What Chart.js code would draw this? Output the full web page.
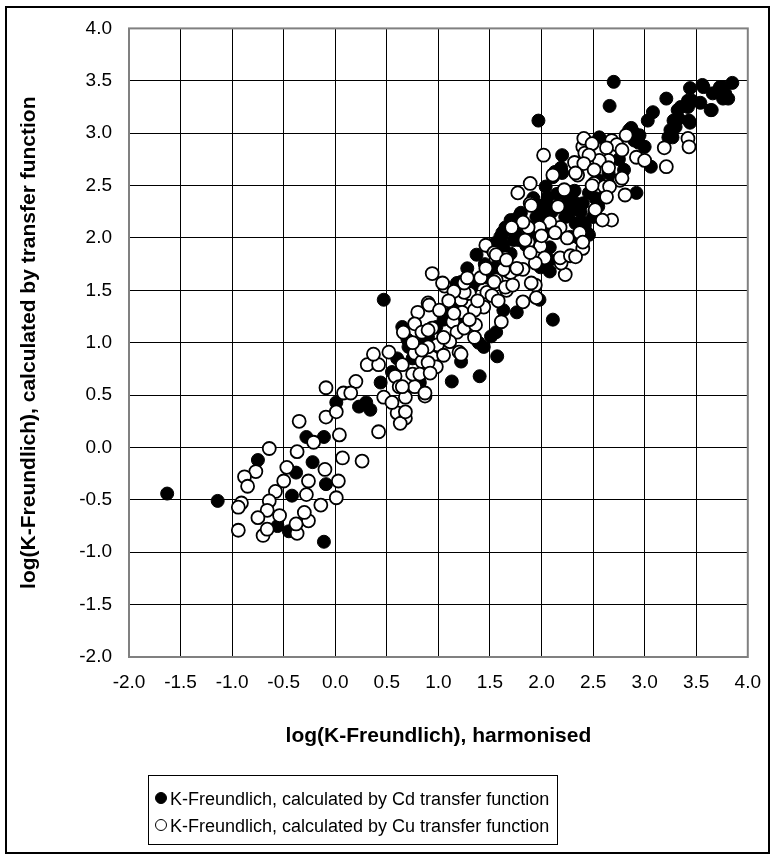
<!DOCTYPE html>
<html>
<head>
<meta charset="utf-8">
<script src="https://cdn.jsdelivr.net/npm/chart.js@4.4.1/dist/chart.umd.min.js"></script>
<style>
  body { margin: 0; background: #fff; overflow: hidden; }
  #wrap { position: relative; width: 775px; height: 859px; }
  #myChart { position: absolute; left: 0; top: 0; }
  #frame { position: absolute; left: 5px; top: 6px; width: 765px; height: 848px; border: 2px solid #000; box-sizing: border-box; pointer-events: none; }
  #legend { position: absolute; left: 148px; top: 775px; width: 410px; height: 70px; border: 1.5px solid #000; box-sizing: border-box;
            font: 18px "Liberation Sans", Arial, sans-serif; color: #000; padding-top: 10px; }
  .legend-row { height: 27px; line-height: 27px; white-space: nowrap; }
  .legend-mark { display: inline-block; width: 10px; height: 10px; border: 1.5px solid #000; border-radius: 50%;
                 margin: 0 3px 0 6px; vertical-align: 1px; }
</style>
</head>
<body>
<div id="wrap">
  <canvas id="myChart" width="775" height="859"></canvas>
  <div id="frame"></div>
  <div id="legend"></div>
</div>
<script>
'use strict';

// dane (log K-Freundlich)
// Cd - kolka pelne
var cdX = [-1.63, -1.14, -0.75, -0.38, -0.42, -0.56, -0.45, -0.22, -0.11, -0.09, -0.28, -0.11, 0.01, 0.23, 0.34, 0.44, 0.30,
  0.60, 0.65, 0.70, 0.47,
  1.28, 1.22, 1.70, 1.73, 1.63, 1.76, 1.56, 1.39, 0.71, 1.18,
  1.13, 1.40, 1.57, 1.44, 1.51, 2.11, 2.08, 1.63, 1.22, 1.98,
  2.20, 2.13, 2.04, 2.04, 1.97, 1.95, 1.79, 1.70, 1.65, 1.60, 1.51, 1.37, 1.18, 2.27, 2.33, 2.46, 2.28, 2.08, 2.33, 2.52, 2.65, 2.19,
  1.97, 2.70, 2.66, 3.08, 3.03, 3.21, 3.44, 3.56, 3.32, 3.42, 3.28, 3.25, 3.23, 3.54, 3.44, 2.56, 2.18, 2.85, 2.94, 3.00, 3.06, 2.92, 2.46, 2.40, 2.27,
  3.85, 3.78, 3.73, 3.66, 3.81, 3.46, 3.65, 3.35, 3.33, 3.30, 3.43, 3.27, 2.87, 2.90,
  2.89, 3.42, 3.57, 3.76, 3.76, 3.64, 2.11, 2.20, 2.06, 2.30, 2.40, 2.44, 2.23, 1.99, 2.06, 1.80, 1.73, 1.66, 1.60, 1.54, 2.08, 1.99, 1.85,
  0.75, 0.90, 1.05, 1.15, 1.32, 1.42, 0.55, 0.82, 1.00, 1.25, 1.55, 1.88, 2.15, 2.55, 2.75, 2.95,
  1.45, 1.55, 1.62, 1.75, 1.85, 1.92, 2.00, 2.10, 2.15, 2.25, 2.32, 2.38, 2.50, 2.55, 2.62, 2.70, 2.80, 1.35, 1.25, 1.12, 0.98, 0.85,
  1.70, 1.90, 2.02, 2.36, 1.48, 1.78, 2.12, 2.42];
var cdY = [-0.44, -0.51, -0.12, -0.24, -0.46, -0.75, -0.80, -0.14, -0.90, -0.35, 0.10, 0.10, 0.43, 0.39, 0.36, 0.62, 0.43,
  0.85, 1.15, 1.03, 1.41,
  1.71, 1.58, 2.10, 1.98, 1.93, 1.29, 1.10, 1.00, 0.96, 1.49,
  0.63, 0.68, 0.87, 0.96, 1.06, 1.22, 1.68, 1.31, 0.82, 1.41,
  2.79, 2.63, 2.49, 2.33, 2.31, 2.20, 2.22, 2.17, 2.10, 1.98, 1.90, 1.84, 1.57, 2.24, 2.14, 2.03, 2.01, 1.91, 2.33, 2.38, 2.62, 2.67,
  3.12, 3.49, 3.26, 3.20, 3.12, 3.33, 3.43, 3.46, 3.22, 3.25, 3.12, 3.03, 2.96, 3.29, 3.10, 2.96, 2.65, 3.03, 2.91, 2.87, 2.68, 2.43, 2.43, 2.33, 2.27,
  3.48, 3.38, 3.44, 3.38, 3.33, 3.31, 3.22, 3.25, 3.14, 3.06, 3.12, 2.96, 3.05, 2.93,
  3.01, 3.31, 3.44, 3.33, 3.44, 3.22, 2.58, 2.62, 2.39, 2.30, 2.15, 2.05, 2.20, 2.22, 2.30, 2.24, 2.17, 2.08, 2.01, 1.86, 1.79, 1.72, 1.93,
  0.85, 1.05, 1.22, 1.35, 1.52, 1.62, 0.72, 0.62, 0.92, 1.20, 1.72, 2.05, 2.05, 2.55, 2.75, 2.98,
  1.75, 1.95, 2.05, 2.05, 2.12, 2.38, 2.15, 2.25, 2.42, 2.38, 2.45, 2.25, 2.20, 2.30, 2.42, 2.55, 2.65, 1.58, 1.45, 1.28, 1.15, 0.98,
  1.85, 1.95, 2.05, 2.00, 1.62, 1.98, 2.10, 2.12];

// Cu - kolka puste
var cuX = [-0.09, 0.08, 0.20, 0.15, 0.31, 0.42, 0.37, 0.47, 0.42, -0.09, 0.01, 0.04, -0.35, -0.37, -0.21, -0.64, 0.07, 0.26, -0.10, -0.47,
  -0.77, -0.88, -0.85, -0.50, -0.26, 0.03, 0.01, -0.28, -0.58, -0.64, -0.91, -0.94, -0.54, -0.66, -0.75, -0.26, -0.30, -0.14, -0.94, -0.70,
  -0.37, -0.66, -0.38,
  0.52, 0.58, 0.62, 0.68, 0.77, 0.87, 0.60, 0.68, 0.63, 0.65, 0.75, 0.77, 0.66, 0.80, 0.90, 0.89, 0.94, 0.84,
  0.94, 1.06, 0.91, 1.01, 0.77, 0.94, 0.84, 1.14, 1.22, 1.30, 1.41, 1.46, 1.46, 1.54, 1.65, 1.68, 1.56, 1.66, 1.47, 1.44, 1.23, 1.35,
  1.18, 1.25, 0.99, 0.90, 1.11, 1.20, 1.61, 1.36, 1.75,
  1.70, 1.82, 1.94, 1.95, 1.82, 1.54, 1.25, 1.22, 0.98, 0.90, 0.84, 0.82, 0.87, 2.23, 2.19,
  0.65, 0.55, 0.68, 0.90, 0.92,
  2.02, 1.77, 1.89, 1.89, 2.22, 2.32, 2.40, 2.42, 2.51, 2.61, 2.70, 2.52, 2.68, 2.59, 2.35, 2.37, 2.18, 2.08, 1.98, 1.87, 1.82, 1.87, 1.99,
  2.03, 1.94, 1.89, 2.18, 2.28, 2.40, 1.76, 1.56, 1.63, 1.90, 1.65, 1.25, 1.04, 1.15,
  2.41, 2.49, 2.68, 2.82, 2.73, 2.78, 2.63, 2.65, 2.56, 2.46, 2.41, 2.51, 2.65, 2.76, 2.92, 3.00, 3.19, 3.21, 3.42, 3.43, 2.11, 1.90, 2.16,
  2.49, 2.66, 2.81,
  2.33, 2.78, 2.63, 2.40, 2.33, 2.13, 1.71, 1.84, 1.66,
  1.05, 1.15, 1.30, 1.38, 1.10, 1.28, 1.52, 1.35, 1.05, 0.75, 1.58, 1.72, 2.00, 2.25];
var cuY = [0.57, 0.52, 0.63, 0.52, 0.79, 0.79, 0.89, 0.48, 0.15, 0.29, 0.34, 0.12, 0.25, -0.04, 0.05, -0.01, -0.10, -0.13, -0.21, -0.19,
  -0.23, -0.28, -0.37, -0.32, -0.32, -0.32, -0.48, -0.45, -0.42, -0.51, -0.53, -0.57, -0.65, -0.60, -0.67, -0.70, -0.62, -0.55, -0.79, -0.84,
  -0.82, -0.78, -0.73,
  0.91, 0.68, 0.58, 0.48, 0.58, 0.49, 0.33, 0.28, 0.23, 0.79, 0.70, 0.90, 1.10, 1.29, 1.38, 0.95, 0.86, 0.82,
  1.66, 1.54, 1.36, 1.31, 1.18, 1.14, 1.10, 1.20, 1.41, 1.47, 1.62, 1.71, 1.93, 1.86, 1.81, 1.68, 1.60, 1.50, 1.48, 1.34, 1.29, 1.31,
  1.10, 1.14, 0.98, 0.96, 1.01, 0.91, 1.20, 1.17, 1.70,
  1.67, 1.70, 1.55, 1.43, 1.39, 1.58, 1.48, 0.89, 0.77, 1.12, 0.93, 0.70, 0.52, 1.65, 1.76,
  0.58, 0.43, 0.34, 0.81, 0.71,
  2.79, 2.43, 2.52, 2.33, 2.46, 2.72, 2.87, 2.81, 2.52, 2.49, 2.90, 2.27, 2.17, 2.17, 2.60, 2.05, 2.10, 2.15, 2.10, 2.10, 2.15, 1.96, 1.92,
  1.81, 1.76, 1.86, 1.81, 1.83, 1.90, 1.71, 1.84, 1.70, 1.57, 1.53, 1.57, 1.57, 1.49,
  2.95, 2.90, 2.93, 2.98, 2.89, 2.84, 2.86, 2.74, 2.74, 2.79, 2.71, 2.65, 2.67, 2.55, 2.77, 2.74, 2.86, 2.68, 2.95, 2.87, 2.60, 2.31, 2.30,
  2.50, 2.49, 2.41,
  2.62, 2.57, 2.39, 1.96, 1.82, 2.05, 2.10, 1.98, 1.79,
  1.05, 1.28, 1.22, 1.40, 1.40, 1.62, 1.45, 1.05, 0.88, 1.00, 1.40, 1.55, 2.02, 2.00];

// osie
var axisMin = -2;
var axisMax = 4;
var axisStep = 0.5;

var cdLabel = 'K-Freundlich, calculated by Cd transfer function';
var cuLabel = 'K-Freundlich, calculated by Cu transfer function';
var xTitle = 'log(K-Freundlich), harmonised';
var yTitle = 'log(K-Freundlich), calculated by transfer function';

function toPoints(xs, ys) {
  var pts = [];
  for (var i = 0; i < xs.length; i++) {
    pts.push({ x: xs[i], y: ys[i] });
  }
  return pts;
}

var fontFamily = '"Liberation Sans", Arial, sans-serif';

// szara ramka obszaru wykresu
var plotFrame = {
  id: 'plotFrame',
  beforeDatasetsDraw: function(chart) {
    var a = chart.chartArea;
    var c = chart.ctx;
    c.save();
    c.strokeStyle = '#808080';
    c.lineWidth = 2;
    c.strokeRect(a.left, a.top, a.right - a.left, a.bottom - a.top);
    c.restore();
  }
};

var ctx = document.getElementById('myChart').getContext('2d');

var chart = new Chart(ctx, {
  type: 'scatter',
  data: {
    datasets: [{
      label: cdLabel,
      data: toPoints(cdX, cdY),
      backgroundColor: '#000',
      borderColor: '#000',
      borderWidth: 1,
      pointRadius: 6.5,
      order: 2
    },
    {
      label: cuLabel,
      data: toPoints(cuX, cuY),
      backgroundColor: '#fff',
      borderColor: '#000',
      borderWidth: 1.8,
      pointRadius: 6.5,
      order: 1
    }]
  },
  options: {
    responsive: false,
    animation: false,
    devicePixelRatio: 1,
    layout: { padding: { left: 0, top: 27, right: 17, bottom: 102 } },
    plugins: {
      legend: { display: false },
      tooltip: { enabled: false }
    },
    scales: {
      x: {
        type: 'linear',
        min: axisMin,
        max: axisMax,
        afterFit: function(s) { s.height = 100; },
        grid: { color: '#000', lineWidth: 1, drawTicks: false },
        border: { display: false },
        ticks: {
          stepSize: axisStep,
          autoSkip: false,
          maxRotation: 0,
          padding: 14,
          color: '#000',
          font: { family: fontFamily, size: 19 },
          callback: function(v) { return v.toFixed(1); }
        },
        title: {
          display: true,
          text: xTitle,
          color: '#000',
          font: { family: fontFamily, size: 21, weight: 'bold' },
          padding: { top: 0, bottom: 8 }
        }
      },
      y: {
        type: 'linear',
        min: axisMin,
        max: axisMax,
        afterFit: function(s) { s.width = 129; },
        grid: { color: '#000', lineWidth: 1, drawTicks: false },
        border: { display: false },
        ticks: {
          stepSize: axisStep,
          autoSkip: false,
          padding: 17,
          color: '#000',
          font: { family: fontFamily, size: 19 },
          callback: function(v) { return v.toFixed(1); }
        },
        title: {
          display: true,
          text: yTitle,
          color: '#000',
          font: { family: fontFamily, size: 21, weight: 'bold' },
          padding: { top: 17, bottom: 0 }
        }
      }
    }
  },
  plugins: [plotFrame]
});

// legenda w ramce pod wykresem
var legendBox = document.getElementById('legend');
chart.data.datasets.forEach(function(ds) {
  var row = document.createElement('div');
  row.className = 'legend-row';
  var mark = document.createElement('span');
  mark.className = 'legend-mark';
  mark.style.background = ds.backgroundColor;
  row.appendChild(mark);
  row.appendChild(document.createTextNode(ds.label));
  legendBox.appendChild(row);
});
</script>
</body>
</html>
